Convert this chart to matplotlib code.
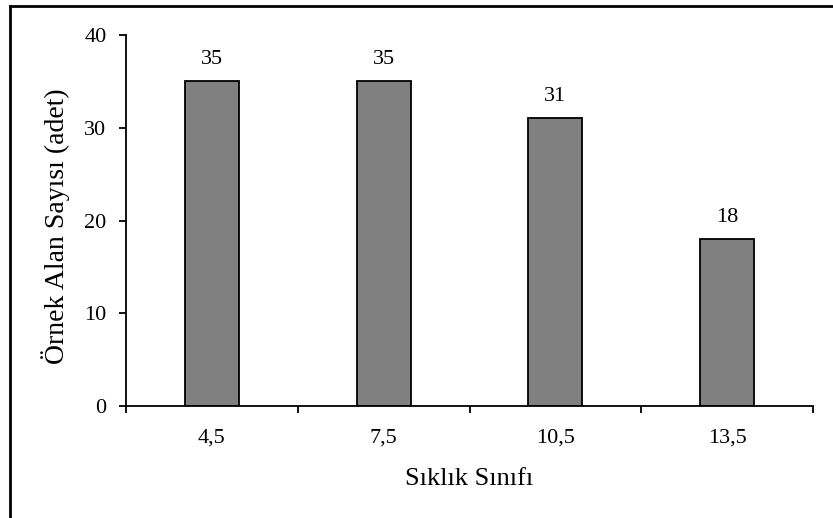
import matplotlib.pyplot as plt
from matplotlib.lines import Line2D
import numpy as np

# class midpoints and sample-plot counts
classes = ['4,5', '7,5', '10,5', '13,5']
counts = [35, 35, 31, 18]

plt.rcParams['font.family'] = ['Liberation Serif', 'DejaVu Serif']
plt.rcParams['font.size'] = 16

fig = plt.figure(figsize=(8.33, 5.18), dpi=100)
ax = fig.add_axes([126 / 833, 1 - 406 / 518, (813 - 126) / 833, (406 - 35) / 518])

x = np.arange(len(classes))
bars = ax.bar(x, counts, width=0.315, color='#808080', edgecolor='black', linewidth=1.3)
for b, v in zip(bars, counts):
    ax.annotate(str(v), (b.get_x() + b.get_width() / 2, v), xytext=(0, 9),
                textcoords='offset points', ha='center', va='bottom', fontsize=16)

ax.set_xlim(-0.5, len(classes) - 0.5)
ax.set_ylim(0, 40)
ax.set_yticks([0, 10, 20, 30, 40])
# ticks sit on the category boundaries, labels in the middle
ax.set_xticks(np.arange(len(classes) + 1) - 0.5)
ax.set_xticklabels([])
ax.set_xticks(x, minor=True)
ax.set_xticklabels(classes, minor=True)
ax.tick_params(axis='x', which='minor', length=0, pad=16)
ax.tick_params(axis='x', which='major', direction='out', length=5, width=1.3)
ax.tick_params(axis='y', direction='out', length=5, width=1.3, pad=9)

for s in ['top', 'right']:
    ax.spines[s].set_visible(False)
for s in ['left', 'bottom']:
    ax.spines[s].set_linewidth(1.3)

ax.set_xlabel('Sıklık Sınıfı', fontsize=19, labelpad=15)
ax.set_ylabel('Örnek Alan Sayısı (adet)', fontsize=20)
ax.yaxis.set_label_coords(-0.081, 0.485)

# chart-area frame (left and top edges)
fig.add_artist(Line2D([10 / 833, 10 / 833], [0, 1 - 5.5 / 518], color='black', linewidth=2,
                      transform=fig.transFigure))
fig.add_artist(Line2D([10 / 833, 1], [1 - 5.5 / 518, 1 - 5.5 / 518], color='black', linewidth=2,
                      transform=fig.transFigure))

fig.savefig('out.png', dpi=100)
